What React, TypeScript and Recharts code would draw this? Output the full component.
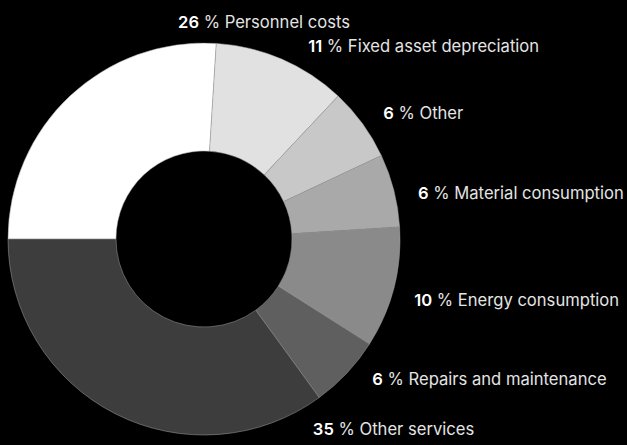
import React from 'react';
import { PieChart, Pie, Cell } from 'recharts';

// Cost structure, clockwise from 9 o'clock
const categories = [
  'Personnel costs',
  'Fixed asset depreciation',
  'Other',
  'Material consumption',
  'Energy consumption',
  'Repairs and maintenance',
  'Other services',
];
const shares = [26, 11, 6, 6, 10, 6, 35];
const sliceColors = ['#ffffff', '#e1e1e1', '#c8c8c8', '#a9a9a9', '#8a8a8a', '#5f5f5f', '#3d3d3d'];

// label direction (degrees, counter-clockwise from 3 o'clock) per category
const labelAngles: Record<string, number> = {
  'Personnel costs': 96.8,
  'Fixed asset depreciation': 61.6,
  'Other': 35.1,
  'Material consumption': 12.2,
  'Energy consumption': -16.3,
  'Repairs and maintenance': -39.8,
  'Other services': -60.2,
};

const data = categories.map((name, i) => ({ name, value: shares[i] }));

const RAD = Math.PI / 180;

function SliceLabel(props: any) {
  const { cx, cy, outerRadius, name, value } = props;
  const angle = labelAngles[name] ?? props.midAngle;
  const r = outerRadius + 23;
  const x = cx + r * Math.cos(angle * RAD);
  const y = cy - r * Math.sin(angle * RAD);
  return (
    <text
      x={x}
      y={y}
      fill="#e4e4e4"
      fontFamily="Inter, 'Noto Sans', sans-serif"
      fontSize={16.6}
      dominantBaseline="central"
      textAnchor="start"
    >
      <tspan fontWeight={600} fill="#ffffff">{value}</tspan>
      <tspan> % {name}</tspan>
    </text>
  );
}

export default function App() {
  return (
    <div style={{ width: 627, height: 445, background: '#000' }}>
      <style>{`body{margin:0;background:#000}`}</style>
      <PieChart
        width={627}
        height={445}
        margin={{ top: 0, right: 0, bottom: 0, left: 0 }}
        style={{ background: '#000' }}
      >
        <Pie
          data={data}
          dataKey="value"
          nameKey="name"
          cx={204}
          cy={239}
          innerRadius={88}
          outerRadius={196}
          startAngle={180}
          endAngle={-180}
          stroke="#a0a0a0"
          strokeWidth={0.5}
          label={SliceLabel}
          labelLine={false}
          isAnimationActive={false}
        >
          {data.map((d, i) => (
            <Cell key={d.name} fill={sliceColors[i]} />
          ))}
        </Pie>
      </PieChart>
    </div>
  );
}
